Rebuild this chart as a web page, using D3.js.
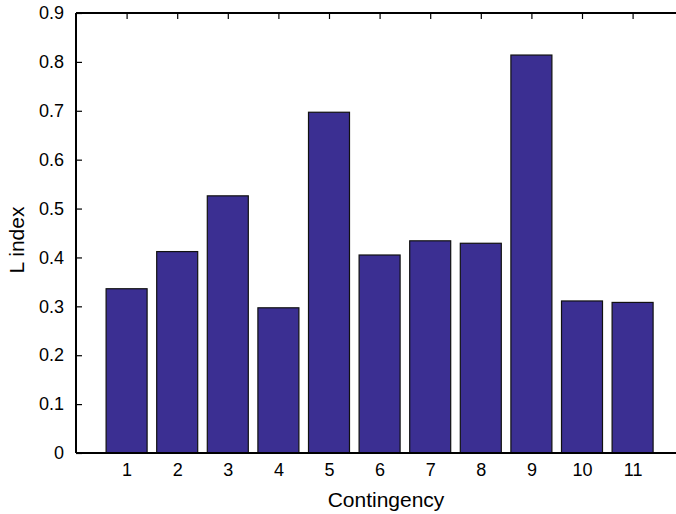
<!DOCTYPE html>
<html>
<head>
<meta charset="utf-8">
<script src="https://cdn.jsdelivr.net/npm/d3@7"></script>
<style>
  body { margin: 0; background: #fff; }
  svg { display: block; font-family: "Liberation Sans", Arial, sans-serif; }
</style>
</head>
<body>
<svg id="chart" width="676" height="514"></svg>
<script>
const categories = [1, 2, 3, 4, 5, 6, 7, 8, 9, 10, 11];
const lIndex = [0.336, 0.412, 0.526, 0.297, 0.697, 0.405, 0.434, 0.429, 0.814, 0.311, 0.308];
const yTicks = [0, 0.1, 0.2, 0.3, 0.4, 0.5, 0.6, 0.7, 0.8, 0.9];

const svg = d3.select("#chart");
const plotLeft = 76, plotTop = 13, plotBottom = 453;

const x = d3.scaleLinear().domain([0, 12]).range([plotLeft, plotLeft + 12 * 50.6]);
const y = d3.scaleLinear().domain([0, 0.9]).range([plotBottom, plotTop]);
const barW = 41;

// bars
svg.selectAll("rect.bar")
  .data(categories)
  .enter()
  .append("rect")
  .attr("class", "bar")
  .attr("x", (d, i) => x(d) - barW / 2)
  .attr("y", (d, i) => y(lIndex[i]))
  .attr("width", barW)
  .attr("height", (d, i) => y(0) - y(lIndex[i]))
  .attr("fill", "#3b2f92")
  .attr("stroke", "#111")
  .attr("stroke-width", 1.2);

// left axis, ticks pointing inward
const yAxis = d3.axisRight(y).tickValues(yTicks).tickSize(6)
  .tickFormat(d => d === 0 ? "0" : d3.format(".1f")(d));
const gy = svg.append("g").attr("transform", `translate(${plotLeft},0)`).call(yAxis);
gy.select(".domain").remove();
gy.selectAll(".tick line").attr("stroke", "#000").attr("stroke-width", 1.2);
gy.selectAll(".tick text")
  .attr("x", -12).attr("text-anchor", "end")
  .attr("font-size", 18).attr("fill", "#000");

// top axis, ticks pointing down
const xTop = d3.axisBottom(x).tickValues(categories).tickSize(6).tickFormat("");
const gt = svg.append("g").attr("transform", `translate(0,${plotTop})`).call(xTop);
gt.select(".domain").remove();
gt.selectAll(".tick line").attr("stroke", "#000").attr("stroke-width", 1.2);

// bottom axis labels
const xBot = d3.axisBottom(x).tickValues(categories).tickSize(0).tickPadding(10);
const gb = svg.append("g").attr("transform", `translate(0,${plotBottom})`).call(xBot);
gb.select(".domain").remove();
gb.selectAll(".tick text").attr("font-size", 18).attr("fill", "#000");

// frame lines
svg.append("line").attr("x1", plotLeft).attr("x2", plotLeft).attr("y1", plotTop).attr("y2", plotBottom)
  .attr("stroke", "#000").attr("stroke-width", 2);
svg.append("line").attr("x1", plotLeft).attr("x2", 676).attr("y1", plotTop).attr("y2", plotTop)
  .attr("stroke", "#000").attr("stroke-width", 2);
svg.append("line").attr("x1", plotLeft).attr("x2", 676).attr("y1", plotBottom).attr("y2", plotBottom)
  .attr("stroke", "#000").attr("stroke-width", 2);

// axis titles
svg.append("text")
  .attr("x", 386).attr("y", 507)
  .attr("text-anchor", "middle")
  .attr("font-size", 21)
  .text("Contingency");

svg.append("text")
  .attr("transform", "translate(24,240) rotate(-90)")
  .attr("text-anchor", "middle")
  .attr("font-size", 21)
  .text("L index");
</script>
</body>
</html>
